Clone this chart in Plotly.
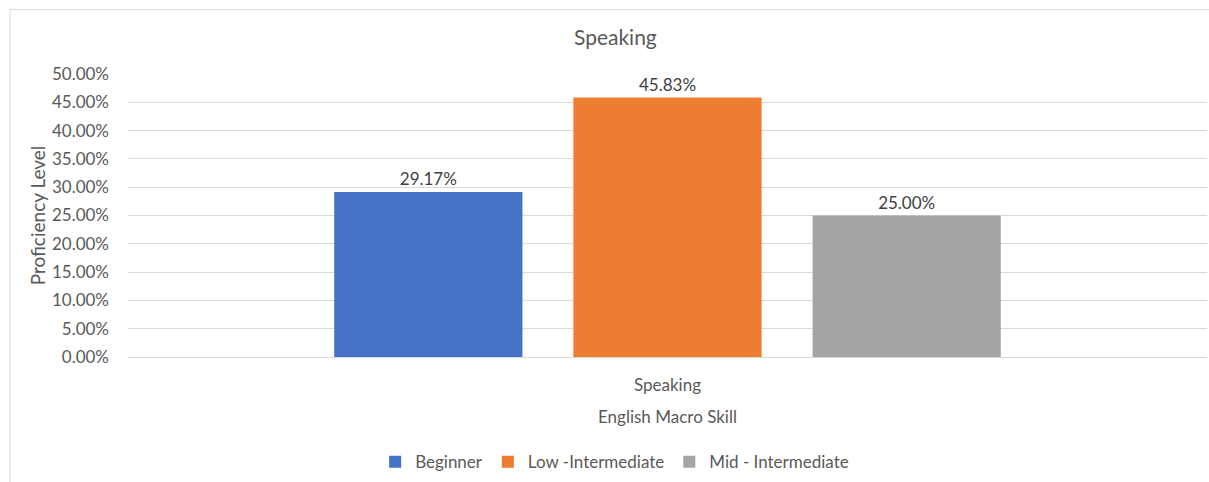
import plotly.graph_objects as go

categories = ["Speaking"]
series_names = ["Beginner", "Low -Intermediate", "Mid - Intermediate"]
series_values = [[0.2917], [0.4583], [0.25]]
series_colors = ["#4472C4", "#ED7D31", "#A5A5A5"]
y_ticks = [0, 0.05, 0.10, 0.15, 0.20, 0.25, 0.30, 0.35, 0.40, 0.45, 0.50]

FONT = "Lato, Carlito, Calibri, sans-serif"
TXT = "#595959"

fig = go.Figure()
for name, vals, col in zip(series_names, series_values, series_colors):
    fig.add_trace(go.Bar(
        x=categories, y=vals, name=name, marker_color=col, marker_line_width=0,
        texttemplate="%{y:.2%}", textposition="outside",
        textfont=dict(size=17, color="#404040", family=FONT),
        cliponaxis=False,
    ))

fig.update_layout(
    width=1209, height=482,
    margin=dict(l=128, r=2, t=74, b=123),
    paper_bgcolor="white", plot_bgcolor="white",
    font=dict(family=FONT, color=TXT, size=16),
    barmode="group", bargap=0.335, bargroupgap=0.213,
    title=dict(text="Speaking", x=0.509, xref="container", y=1 - 38 / 482,
               yref="container", xanchor="center", yanchor="middle",
               font=dict(size=21, color=TXT, family=FONT)),
    showlegend=True,
    legend=dict(orientation="h", x=0.451, xanchor="center", y=-0.372, yanchor="middle",
                font=dict(size=17, color=TXT, family=FONT), traceorder="normal",
                bgcolor="rgba(0,0,0,0)"),
    xaxis=dict(showgrid=False, showline=False, ticks="", ticklabelstandoff=16,
               tickfont=dict(size=17, color=TXT),
               title=dict(text="English Macro Skill", standoff=17,
                          font=dict(size=17, color=TXT))),
    yaxis=dict(range=[0, 0.5], tickvals=y_ticks, tickformat=".2%",
               showgrid=True, gridcolor="#D9D9D9", gridwidth=1,
               zeroline=True, zerolinecolor="#D9D9D9", zerolinewidth=1,
               showline=False, ticks="", ticklabelstandoff=18,
               tickfont=dict(size=17, color=TXT),
               title=dict(text="Proficiency Level", standoff=1,
                          font=dict(size=19, color=TXT))),
    shapes=[dict(type="rect", xref="paper", yref="paper",
                 x0=(10 - 128) / 1079, x1=(1214 - 128) / 1079,
                 y0=(359 - 490) / 285, y1=(359 - 9) / 285,
                 line=dict(color="#D9D9D9", width=1), fillcolor="rgba(0,0,0,0)",
                 layer="below")],
)

fig.write_html("out.html")
